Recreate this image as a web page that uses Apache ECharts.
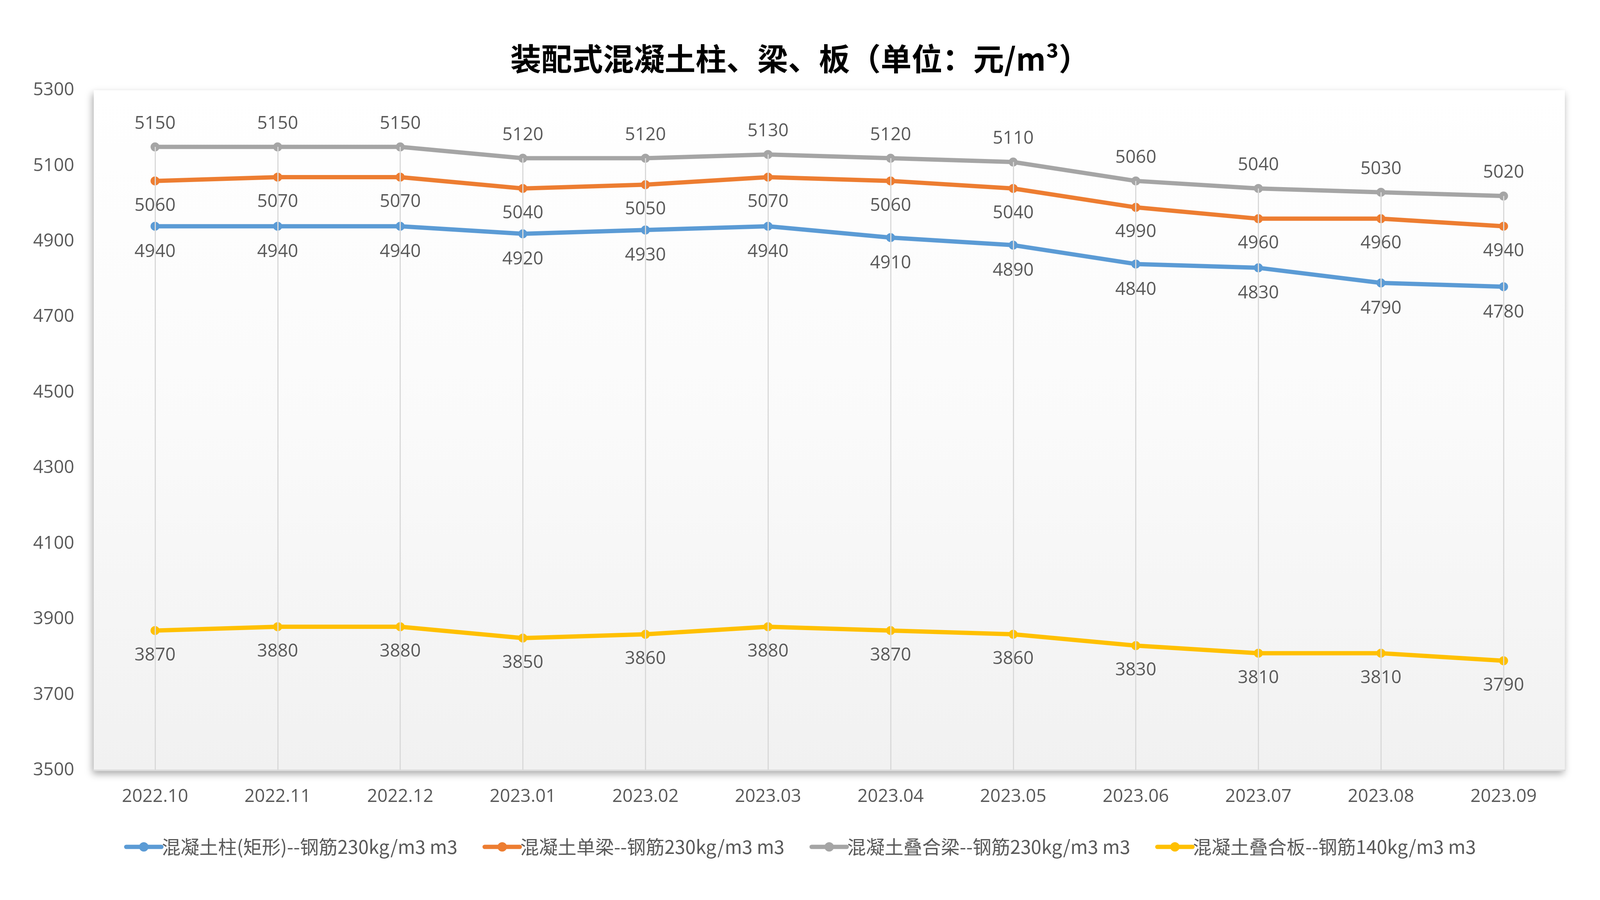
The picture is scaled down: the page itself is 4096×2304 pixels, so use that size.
<!DOCTYPE html>
<html>
<head>
<meta charset="utf-8">
<script src="https://cdn.jsdelivr.net/npm/echarts@6/dist/echarts.min.js"></script>
<style>
  html, body { margin: 0; padding: 0; background: #ffffff; }
  #chart { width: 4096px; height: 2304px; }
</style>
</head>
<body>
<div id="chart"></div>
<script>
const titleText = '装配式混凝土柱、梁、板（单位：元/m³）';
const categories = ['2022.10', '2022.11', '2022.12', '2023.01', '2023.02', '2023.03', '2023.04', '2023.05', '2023.06', '2023.07', '2023.08', '2023.09'];
const yTicks = [3500, 3700, 3900, 4100, 4300, 4500, 4700, 4900, 5100, 5300];
const seriesNames = [
  '混凝土柱(矩形)--钢筋230kg/m3 m3',
  '混凝土单梁--钢筋230kg/m3 m3',
  '混凝土叠合梁--钢筋230kg/m3 m3',
  '混凝土叠合板--钢筋140kg/m3 m3'
];
const columnValues = [4940, 4940, 4940, 4920, 4930, 4940, 4910, 4890, 4840, 4830, 4790, 4780];
const beamValues = [5060, 5070, 5070, 5040, 5050, 5070, 5060, 5040, 4990, 4960, 4960, 4940];
const compositeBeamValues = [5150, 5150, 5150, 5120, 5120, 5130, 5120, 5110, 5060, 5040, 5030, 5020];
const slabValues = [3870, 3880, 3880, 3850, 3860, 3880, 3870, 3860, 3830, 3810, 3810, 3790];
const colors = ['#5B9BD5', '#ED7D31', '#A5A5A5', '#FFC000'];

const latinFont = '"Open Sans", "Noto Sans", sans-serif';
const labelColor = '#595959';

function makeSeries(name, data, color, pos, dist, extra) {
  return Object.assign({
    name: name,
    type: 'line',
    data: data,
    symbol: 'circle',
    symbolSize: 23,
    color: color,
    lineStyle: { width: 11, color: color, cap: 'round', join: 'round' },
    itemStyle: { color: color },
    label: {
      show: true,
      position: pos,
      distance: dist,
      fontFamily: latinFont,
      fontSize: 46,
      color: labelColor
    },
    emphasis: { disabled: true },
    z: 3
  }, extra || {});
}

const chart = echarts.init(document.getElementById('chart'));
chart.setOption({
  animation: false,
  backgroundColor: '#ffffff',
  title: {
    text: titleText,
    left: 'center',
    top: 106,
    textStyle: {
      fontFamily: '"Noto Sans CJK SC", sans-serif',
      fontWeight: 'bold',
      fontSize: 79,
      color: '#000000'
    }
  },
  legend: {
    top: 2139,
    left: 'center',
    itemWidth: 90,
    itemHeight: 30,
    itemGap: 64,
    lineStyle: { width: 11 },
    textStyle: {
      fontFamily: '"Noto Sans CJK SC", sans-serif',
      fontSize: 48,
      color: labelColor,
      padding: [0, 0, 0, -4]
    },
    data: seriesNames
  },
  grid: {
    left: 240,
    right: 90,
    top: 231,
    bottom: 332,
    show: true,
    borderWidth: 0,
    backgroundColor: new echarts.graphic.LinearGradient(0, 0, 0, 1, [
      { offset: 0, color: '#ffffff' },
      { offset: 0.5, color: '#fafafa' },
      { offset: 1, color: '#f1f1f1' }
    ]),
    shadowColor: 'rgba(0,0,0,0.35)',
    shadowBlur: 18,
    shadowOffsetX: -3,
    shadowOffsetY: 9
  },
  xAxis: {
    type: 'category',
    data: categories,
    boundaryGap: true,
    axisLine: { show: true, lineStyle: { color: '#dcdcdc', width: 4 } },
    axisTick: { show: false },
    splitLine: { show: false },
    axisLabel: {
      fontFamily: latinFont,
      fontSize: 46,
      color: labelColor,
      margin: 45
    }
  },
  yAxis: {
    type: 'value',
    min: yTicks[0],
    max: yTicks[yTicks.length - 1],
    axisLine: { show: false },
    axisTick: { show: false },
    splitLine: { show: false },
    axisLabel: {
      customValues: yTicks,
      formatter: function (v) { return String(v); },
      fontFamily: latinFont,
      fontSize: 46,
      color: labelColor,
      margin: 50
    }
  },
  series: [
    makeSeries(seriesNames[0], columnValues, colors[0], 'bottom', 31),
    makeSeries(seriesNames[1], beamValues, colors[1], 'bottom', 29),
    makeSeries(seriesNames[2], compositeBeamValues, colors[2], 'top', 25, {
      markLine: {
        silent: true,
        symbol: 'none',
        label: { show: false },
        emphasis: { disabled: true },
        lineStyle: { color: '#d9d9d9', width: 3, type: 'solid' },
        data: categories.map(function (c, i) {
          return [{ xAxis: c, yAxis: yTicks[0] }, { xAxis: c, yAxis: compositeBeamValues[i] }];
        })
      }
    }),
    makeSeries(seriesNames[3], slabValues, colors[3], 'bottom', 29)
  ]
});
</script>
</body>
</html>
